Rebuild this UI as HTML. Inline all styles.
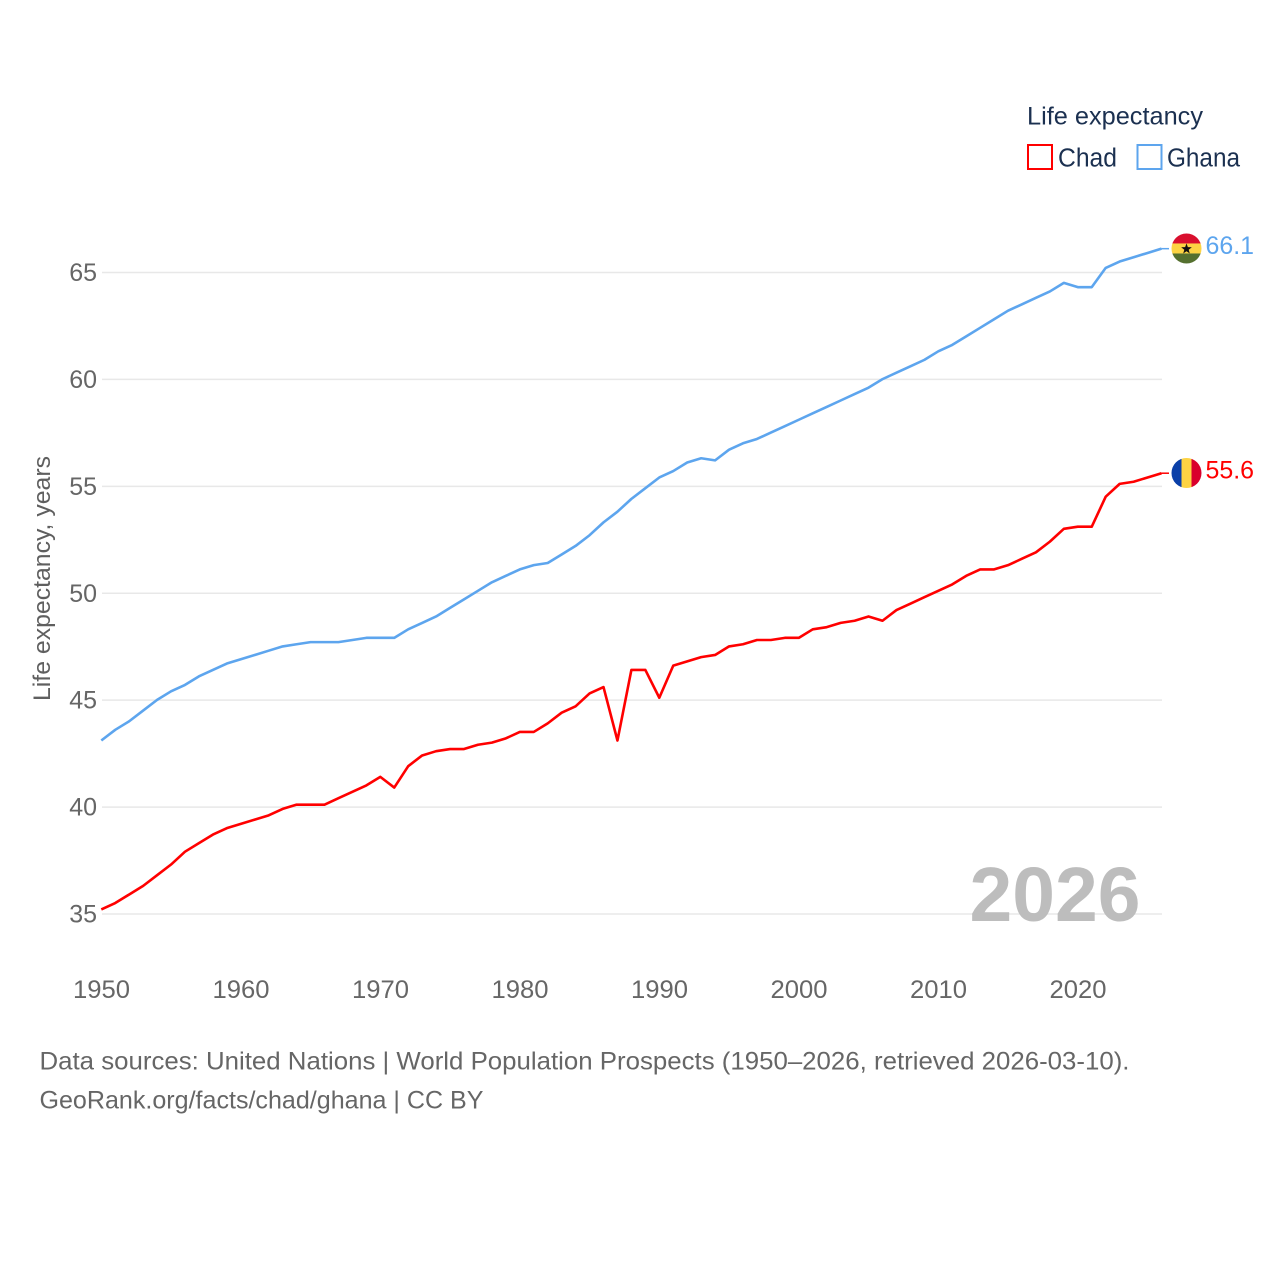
<!DOCTYPE html>
<html lang="en">
<head>
<meta charset="utf-8">
<title>Life expectancy: Chad and Ghana</title>
<style>
html,body{margin:0;padding:0;background:#fff;width:1280px;height:1280px;overflow:hidden}
svg{display:block;font-family:"Liberation Sans",sans-serif}
</style>
</head>
<body>
<svg id="chart" xmlns="http://www.w3.org/2000/svg" width="1280" height="1280" viewBox="0 0 1280 1280">
  <rect width="1280" height="1280" fill="#fff"/>
  <g id="grid"></g>
  <g id="yticks"></g>
  <g id="xticks"></g>
  <text transform="translate(50,701) rotate(-90)" font-size="24.5" fill="#5f5f5f" textLength="245" lengthAdjust="spacingAndGlyphs">Life expectancy, years</text>
  <text x="969.500" y="921" font-size="77" font-weight="700" fill="#bdbdbd" textLength="171" lengthAdjust="spacingAndGlyphs">2026</text>
  <g id="series"></g>
  <g id="endpoints"></g>

  <g>
    <text x="1027" y="124.500" font-size="25" fill="#1b3050" textLength="176" lengthAdjust="spacingAndGlyphs">Life expectancy</text>
    <g>
      <rect x="1028" y="145" width="24" height="24" fill="none" stroke="#ff0000" stroke-width="2"/>
      <text x="1058" y="166.500" font-size="25.500" fill="#1b3050" textLength="59" lengthAdjust="spacingAndGlyphs">Chad</text>
    </g>
    <g>
      <rect x="1137.500" y="145" width="24" height="24" fill="none" stroke="#5da5ee" stroke-width="2"/>
      <text x="1167" y="166.500" font-size="25.500" fill="#1b3050" textLength="73" lengthAdjust="spacingAndGlyphs">Ghana</text>
    </g>
  </g>

  <g>
    <text x="39.500" y="1069.500" font-size="25" fill="#666666" textLength="1090" lengthAdjust="spacingAndGlyphs">Data sources: United Nations | World Population Prospects (1950–2026, retrieved 2026-03-10).</text>
    <text x="39.500" y="1108.500" font-size="25" fill="#666666" textLength="444" lengthAdjust="spacingAndGlyphs">GeoRank.org/facts/chad/ghana | CC BY</text>
  </g>
</svg>

<script>
const years = [1950,1951,1952,1953,1954,1955,1956,1957,1958,1959,1960,1961,1962,1963,1964,1965,1966,1967,1968,1969,1970,1971,1972,1973,1974,1975,1976,1977,1978,1979,1980,1981,1982,1983,1984,1985,1986,1987,1988,1989,1990,1991,1992,1993,1994,1995,1996,1997,1998,1999,2000,2001,2002,2003,2004,2005,2006,2007,2008,2009,2010,2011,2012,2013,2014,2015,2016,2017,2018,2019,2020,2021,2022,2023,2024,2025,2026];
const chadValues = [35.2,35.5,35.9,36.3,36.8,37.3,37.9,38.3,38.7,39.0,39.2,39.4,39.6,39.9,40.1,40.1,40.1,40.4,40.7,41.0,41.4,40.9,41.9,42.4,42.6,42.7,42.7,42.9,43.0,43.2,43.5,43.5,43.9,44.4,44.7,45.3,45.6,43.1,46.4,46.4,45.1,46.6,46.8,47.0,47.1,47.5,47.6,47.8,47.8,47.9,47.9,48.3,48.4,48.6,48.7,48.9,48.7,49.2,49.5,49.8,50.1,50.4,50.8,51.1,51.1,51.3,51.6,51.9,52.4,53.0,53.1,53.1,54.5,55.1,55.2,55.4,55.6];
const ghanaValues = [43.1,43.6,44.0,44.5,45.0,45.4,45.7,46.1,46.4,46.7,46.9,47.1,47.3,47.5,47.6,47.7,47.7,47.7,47.8,47.9,47.9,47.9,48.3,48.6,48.9,49.3,49.7,50.1,50.5,50.8,51.1,51.3,51.4,51.8,52.2,52.7,53.3,53.8,54.4,54.9,55.4,55.7,56.1,56.3,56.2,56.7,57.0,57.2,57.5,57.8,58.1,58.4,58.7,59.0,59.3,59.6,60.0,60.3,60.6,60.9,61.3,61.6,62.0,62.4,62.8,63.2,63.5,63.8,64.1,64.5,64.3,64.3,65.2,65.5,65.7,65.9,66.1];
const yTickValues = [35,40,45,50,55,60,65];
const xTickValues = [1950,1960,1970,1980,1990,2000,2010,2020];

const NS = 'http://www.w3.org/2000/svg';
const PLOT_LEFT = 101.3, PLOT_RIGHT = 1161.5, PLOT_TOP = 272.2, PLOT_BOTTOM = 913.7;
const GRID_RIGHT = 1162;
function xScale(year){ return PLOT_LEFT + (year - 1950) * (PLOT_RIGHT - PLOT_LEFT) / (2026 - 1950); }
function yScale(value){ return PLOT_BOTTOM - (value - 35) * (PLOT_BOTTOM - PLOT_TOP) / (65 - 35); }
function make(tag, attrs, text){
  const el = document.createElementNS(NS, tag);
  for (const k in attrs) el.setAttribute(k, attrs[k]);
  if (text !== undefined) el.textContent = text;
  return el;
}

const grid = document.getElementById('grid');
const yticks = document.getElementById('yticks');
yTickValues.forEach(function(v){
  const line = make('line', {x1:PLOT_LEFT + 0.7, x2:GRID_RIGHT, y1:yScale(v) + 0.3, y2:yScale(v) + 0.3, stroke:'#e8e8e8', 'stroke-width':1.5});
  
  
  grid.appendChild(line);
  const label = make('text', {x:97, y:yScale(v) + 8.8, 'font-size':25, fill:'#666666', 'text-anchor':'end'}, String(v));
  
  
  yticks.appendChild(label);
});

const xticks = document.getElementById('xticks');
xTickValues.forEach(function(y){
  const label = make('text', {x:xScale(y) + 0.2, y:998, 'font-size':25, fill:'#666666', 'text-anchor':'middle', textLength:57, lengthAdjust:'spacingAndGlyphs'}, String(y));
  
  
  xticks.appendChild(label);
});

function linePath(values){
  return values.map(function(v, i){
    return (i ? 'L' : 'M') + xScale(years[i]).toFixed(2) + ' ' + yScale(v).toFixed(2);
  }).join('');
}

const series = document.getElementById('series');
const chadLine = make('path', {d:linePath(chadValues), fill:'none', stroke:'#ff0000', 'stroke-width':2.6, 'stroke-linejoin':'round'});


series.appendChild(chadLine);
const ghanaLine = make('path', {d:linePath(ghanaValues), fill:'none', stroke:'#5da5ee', 'stroke-width':2.6, 'stroke-linejoin':'round'});


series.appendChild(ghanaLine);

const endpoints = document.getElementById('endpoints');
const FLAG_X = 1186.5, FLAG_R = 15;

function addEnd(values, color, id){
  const v = values[values.length - 1];
  const y = yScale(v);
  const connector = make('line', {x1:PLOT_RIGHT, x2:1169, y1:y, y2:y, stroke:color, 'stroke-width':1.5});
  
  
  endpoints.appendChild(connector);
  const label = make('text', {x:1205.5, y:y + 5.3, 'font-size':25, fill:color, textLength:48.5, lengthAdjust:'spacingAndGlyphs'}, v.toFixed(1));
  
  
  endpoints.appendChild(label);
  const clip = make('clipPath', {id:'clip-' + id});
  clip.appendChild(make('circle', {cx:FLAG_X, cy:y - 0.2, r:FLAG_R}));
  endpoints.appendChild(clip);
  const flag = make('g', {'clip-path':'url(#clip-' + id + ')'});
  endpoints.appendChild(flag);
  return {flag:flag, y:y - 0.2};
}

const ghanaEnd = addEnd(ghanaValues, '#5da5ee', 'ghana');


ghanaEnd.flag.appendChild(make('rect', {x:FLAG_X - 15, y:ghanaEnd.y - 15, width:30, height:10, fill:'#d90f2e'}));
ghanaEnd.flag.appendChild(make('rect', {x:FLAG_X - 15, y:ghanaEnd.y - 5, width:30, height:10, fill:'#fdd343'}));
ghanaEnd.flag.appendChild(make('rect', {x:FLAG_X - 15, y:ghanaEnd.y + 5, width:30, height:10, fill:'#55702f'}));
let starPts = [];
for (let i = 0; i < 10; i++){
  const r = i % 2 ? 2.3 : 5.6;
  const a = -Math.PI / 2 + i * Math.PI / 5;
  starPts.push((FLAG_X + r * Math.cos(a)).toFixed(2) + ',' + (ghanaEnd.y + 0.5 + r * Math.sin(a)).toFixed(2));
}
ghanaEnd.flag.appendChild(make('polygon', {points:starPts.join(' '), fill:'#111'}));

const chadEnd = addEnd(chadValues, '#ff0000', 'chad');


chadEnd.flag.appendChild(make('rect', {x:FLAG_X - 15, y:chadEnd.y - 15, width:10, height:30, fill:'#0a3fa8'}));
chadEnd.flag.appendChild(make('rect', {x:FLAG_X - 5, y:chadEnd.y - 15, width:10, height:30, fill:'#fdd343'}));
chadEnd.flag.appendChild(make('rect', {x:FLAG_X + 5, y:chadEnd.y - 15, width:10, height:30, fill:'#d9002c'}));
</script>
</body>
</html>
